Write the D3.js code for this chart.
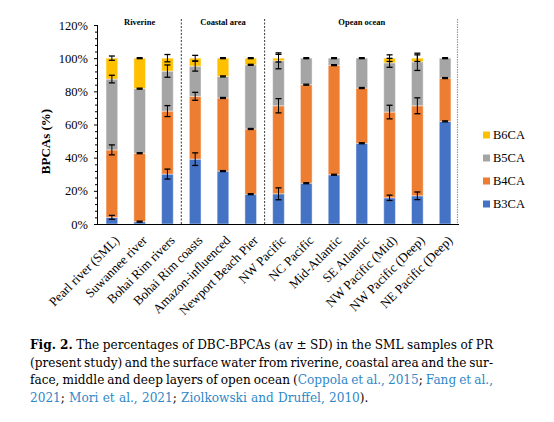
<!DOCTYPE html>
<html>
<head>
<meta charset="utf-8">
<script src="https://cdn.jsdelivr.net/npm/d3@7"></script>
<style>
  html, body { margin: 0; padding: 0; background: #fff; }
  svg { display: block; }
</style>
</head>
<body>
<svg id="chart" width="554" height="422"></svg>
<script>
// ---------------- DATA ----------------
const categories = ["Pearl river (SML)", "Suwannee river", "Bohai Rim rivers", "Bohai Rim coasts",
  "Amazon-influenced", "Newport Beach Pier", "NW Pacific", "NC Pacific", "Mid-Atlantic",
  "SE Atlantic", "NW Pacific (Mid)", "NW Pacific (Deep)", "NE Pacific (Deep)"];
const seriesNames = ["B3CA", "B4CA", "B5CA", "B6CA"];
const b3 = [4.0, 1.4, 30.1, 39.1, 31.9, 18.0, 18.2, 24.6, 29.7, 48.7, 15.8, 17.0, 61.9];
const b4 = [40.7, 41.3, 38.0, 37.9, 44.1, 39.3, 53.1, 59.4, 66.1, 33.3, 51.7, 54.3, 26.1];
const b5 = [42.7, 38.9, 24.1, 18.2, 13.0, 38.7, 27.1, 16.0, 4.2, 18.0, 29.7, 26.5, 12.0];
const b6 = [12.6, 18.4, 7.8, 4.8, 11.0, 4.0, 1.6, 0, 0, 0, 2.8, 2.2, 0];
const sd3 = [1.2, 0.3, 3.0, 3.8, 0.3, 0.3, 3.6, 0.3, 0.3, 0.3, 1.6, 2.3, 0.3];
const sd4 = [3.0, 0.3, 3.3, 2.4, 0.3, 0.3, 4.3, 0.3, 0.3, 0.3, 4.1, 4.8, 0.3];
const sd5 = [2.3, 0.3, 3.7, 3.0, 0.3, 0.3, 4.8, 0.3, 0.3, 0.3, 2.7, 5.2, 0.3];
const sd6 = [1.3, 0.3, 2.2, 1.7, 0.3, 0.3, 2.3, 0, 0, 0, 2.0, 2.0, 0];
const yTicks = [0, 20, 40, 60, 80, 100, 120];
const groups = [
  { label: "Riverine", from: 0, to: 2 },
  { label: "Coastal area", from: 3, to: 5 },
  { label: "Opean ocean", from: 6, to: 12 }
];
const colors = { B3CA: "#4472C4", B4CA: "#ED7D31", B5CA: "#A5A5A5", B6CA: "#FFC000" };

// ---------------- LAYOUT ----------------
const svg = d3.select("#chart");
const FONT = "'Liberation Serif', 'Times New Roman', serif";
const CAPFONT = "'DejaVu Serif', serif";
const x0 = 98, x1 = 459, yBottom = 224, yTop = 25;

const x = d3.scaleBand().domain(categories).range([x0, x1]).paddingInner(0.58).paddingOuter(0.29);
const y = d3.scaleLinear().domain([0, 120]).range([yBottom, yTop]);

const vals = [b3, b4, b5, b6];
const sds = [sd3, sd4, sd5, sd6];
const rows = categories.map((c, i) => {
  const r = { cat: c };
  seriesNames.forEach((s, k) => r[s] = vals[k][i]);
  return r;
});
const stacked = d3.stack().keys(seriesNames)(rows);

// bars
const g = svg.append("g");
stacked.forEach((layer, k) => {
  g.selectAll(null).data(layer).enter().append("rect")
    .attr("x", d => x(d.data.cat))
    .attr("width", x.bandwidth())
    .attr("y", d => y(d[1]))
    .attr("height", d => Math.max(0, y(d[0]) - y(d[1])))
    .attr("fill", colors[layer.key])
    .attr("stroke", "rgba(255,255,255,0.45)")
    .attr("stroke-width", 1);
});

// error bars
stacked.forEach((layer, k) => {
  layer.forEach((d, i) => {
    const sd = sds[k][i];
    if (vals[k][i] <= 0) return;
    const cx = x(d.data.cat) + x.bandwidth() / 2;
    const top = d[1];
    const ya = y(top + sd), yb = y(top - sd);
    g.append("line").attr("x1", cx).attr("x2", cx).attr("y1", ya).attr("y2", yb)
      .attr("stroke", "#000").attr("stroke-width", 1);
    [ya, yb].forEach(yy => g.append("line").attr("x1", cx - 3).attr("x2", cx + 3)
      .attr("y1", yy).attr("y2", yy).attr("stroke", "#000").attr("stroke-width", 1.3));
  });
});

// group separators
const step = x.step();
const sepX = [x(categories[3]) - (step - x.bandwidth()) / 2, x(categories[6]) - (step - x.bandwidth()) / 2];
sepX.forEach(sx => svg.append("line").attr("x1", sx).attr("x2", sx).attr("y1", 19).attr("y2", yBottom)
  .attr("stroke", "#222").attr("stroke-width", 0.9).attr("stroke-dasharray", "2,1.5"));
svg.append("line").attr("x1", 457.5).attr("x2", 457.5).attr("y1", 19).attr("y2", yBottom)
  .attr("stroke", "#999").attr("stroke-width", 1.2).attr("stroke-dasharray", "1.5,1");

// group labels
groups.forEach(gr => {
  const a = x(categories[gr.from]), b = x(categories[gr.to]) + x.bandwidth();
  svg.append("text").attr("x", (a + b) / 2).attr("y", 25)
    .attr("text-anchor", "middle").attr("font-family", FONT).attr("font-weight", "bold")
    .attr("font-size", 8.5).text(gr.label);
});

// y axis
const yAxis = d3.axisLeft(y).tickValues(yTicks).tickFormat(d => d + "%").tickSize(4).tickPadding(6);
const ya = svg.append("g").attr("transform", `translate(${x0},0)`).call(yAxis);
ya.select(".domain").attr("stroke", "#000").attr("d", `M-0.5,${yTop}V${yBottom}`);
ya.selectAll("text").attr("font-family", FONT).attr("font-size", 12.5).attr("fill", "#000");
ya.selectAll("line").attr("stroke", "#000");
// minor ticks
const minor = d3.range(0, 121, 4).filter(v => v % 20 !== 0);
svg.append("g").attr("transform", `translate(${x0},0)`).selectAll("line").data(minor).enter()
  .append("line").attr("x1", -3).attr("x2", 0).attr("y1", d => y(d) + 0.5).attr("y2", d => y(d) + 0.5)
  .attr("stroke", "#000");

// x axis line
svg.append("line").attr("x1", x0 - 0.5).attr("x2", x1).attr("y1", yBottom + 0.5).attr("y2", yBottom + 0.5)
  .attr("stroke", "#000").attr("stroke-width", 1);

// x labels
svg.append("g").selectAll("text").data(categories).enter().append("text")
  .attr("transform", d => `translate(${x(d) + x.bandwidth() / 2 + 5},${yBottom + 14}) rotate(-45)`)
  .attr("text-anchor", "end").attr("dominant-baseline", "central")
  .attr("font-family", FONT).attr("font-size", 13).attr("fill", "#000").text(d => d);

// y axis title
svg.append("text").attr("transform", `translate(45,${(yTop + yBottom) / 2 + 17}) rotate(-90)`)
  .attr("text-anchor", "middle").attr("dominant-baseline", "central")
  .attr("font-family", FONT).attr("font-weight", "bold").attr("font-size", 13).text("BPCAs (%)");

// legend
const legendOrder = ["B6CA", "B5CA", "B4CA", "B3CA"];
legendOrder.forEach((s, i) => {
  const ly = 135 + i * 23;
  svg.append("rect").attr("x", 483).attr("y", ly - 3.5).attr("width", 7).attr("height", 7).attr("fill", colors[s]);
  svg.append("text").attr("x", 493).attr("y", ly).attr("dominant-baseline", "central")
    .attr("font-family", FONT).attr("font-size", 12.5).text(s);
});

// caption (justified)
const BLUE = "#2f87c8";
const capLines = [
  [[["Fig. 2.", "b"]], [["The", ""]], [["percentages", ""]], [["of", ""]], [["DBC-BPCAs", ""]], [["(av", ""]], [["±", ""]], [["SD)", ""]], [["in", ""]], [["the", ""]], [["SML", ""]], [["samples", ""]], [["of", ""]], [["PR", ""]]],
  "(present study) and the surface water from riverine, coastal area and the sur-",
  [[["face,", ""]], [["middle", ""]], [["and", ""]], [["deep", ""]], [["layers", ""]], [["of", ""]], [["open", ""]], [["ocean", ""]], [["(", ""], ["Coppola", "l"]], [["et", "l"]], [["al.,", "l"]], [["2015", "l"], [";", ""]], [["Fang", "l"]], [["et", "l"]], [["al.,", "l"]]],
  [[["2021", "l"], [";", ""]], [["Mori", "l"]], [["et", "l"]], [["al.,", "l"]], [["2021", "l"], [";", ""]], [["Ziolkowski", "l"]], [["and", "l"]], [["Druffel,", "l"]], [["2010", "l"], [").", ""]]]
];
const capX0 = 30, capX1 = 493, capFS = 12.1;
const baselines = [349, 366.5, 384, 401.5];
capLines.forEach((line, li) => {
  let words = typeof line === "string" ? line.split(" ").map(w => [[w, ""]]) : line;
  const lg = svg.append("g");
  const nodes = words.map(w => {
    const t = lg.append("text").attr("y", baselines[li]).attr("font-family", CAPFONT).attr("font-size", capFS).attr("fill", "#000");
    w.forEach(([txt, st]) => {
      const ts = t.append("tspan").text(txt);
      if (st === "b") ts.attr("font-weight", "bold");
      if (st === "l") ts.attr("fill", BLUE);
    });
    return t;
  });
  const widths = nodes.map(n => n.node().getComputedTextLength());
  const total = d3.sum(widths);
  const last = li === capLines.length - 1;
  const gap = last ? capFS * 0.35 : (capX1 - capX0 - total) / (nodes.length - 1);
  let cx = capX0;
  nodes.forEach((n, i) => { n.attr("x", cx); cx += widths[i] + gap; });
});
</script>
</body>
</html>
